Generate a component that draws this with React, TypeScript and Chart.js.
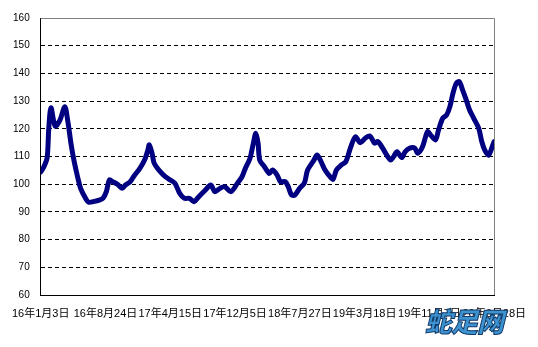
import React, { useEffect, useRef } from "react";
import { Chart, registerables } from "chart.js";

Chart.register(...registerables);

// Day offsets from 2016-01-03 and index values
const days: number[] = [
  0, 10, 23, 29, 37, 52, 69, 87, 98, 110, 121, 133, 144, 162, 173, 190, 214, 225, 237, 248,
  260, 277, 294, 306, 323, 335, 358, 375, 387, 392, 402, 410, 427, 450, 468, 485, 502, 519, 537, 554,
  571, 595, 614, 629, 647, 664, 687, 710, 727, 739, 756, 768, 777, 785, 791, 808, 825, 837, 854, 866,
  883, 894, 906, 918, 935, 952, 964, 987, 998, 1010, 1027, 1045, 1056, 1068, 1085, 1102, 1120, 1137, 1154, 1172,
  1189, 1206, 1218, 1235, 1253, 1264, 1275, 1287, 1304, 1316, 1333, 1351, 1362, 1379, 1397, 1408, 1426, 1437, 1452, 1466,
  1478, 1489, 1501, 1512, 1524, 1535, 1549, 1564, 1582, 1593, 1604, 1618, 1633, 1638,
];

const values: number[] = [
  104.4, 106, 109.5, 120, 127.6, 121, 123, 128, 122.6, 114.2, 108.1, 102.7, 98.5, 94.9, 93.5, 93.7, 94.3, 94.9, 97.3, 101.5,
  100.9, 100, 98.5, 99.7, 100.9, 102.7, 105.7, 108.7, 112.3, 114.2, 111.2, 107.5, 105.1, 102.7, 101.5, 100.3, 96.7, 94.9, 94.9, 93.7,
  95.5, 97.9, 99.7, 97.3, 98.5, 99.1, 97.3, 100.3, 102.7, 105.7, 109.4, 114.8, 118.4, 114.8, 108.7, 106.3, 103.9, 105.1, 103.3, 100.9,
  100.9, 99.1, 96.1, 96.1, 98.5, 100.3, 105.1, 108.7, 110.5, 108.7, 105.1, 102.7, 101.8, 105.1, 106.9, 108.1, 113.5, 117.1, 115, 116.6,
  117.4, 114.8, 115.4, 113, 110, 108.7, 110, 111.7, 109.6, 111.7, 113, 113, 111.2, 113.5, 119, 117.8, 116, 119.6, 123.8, 125,
  128, 132.8, 136.4, 137, 134, 131, 126.8, 123.8, 120.2, 115.4, 112.3, 110.5, 114.2, 115.4,
];

const tickDays: number[] = [0, 234, 468, 702, 936, 1170, 1404, 1638];
const tickLabels: string[] = [
  "16年1月3日",
  "16年8月24日",
  "17年4月15日",
  "17年12月5日",
  "18年7月27日",
  "19年3月18日",
  "19年11月7日",
  "20年6月28日",
];
const yMin = 60;
const yMax = 160;
const yStep = 10;

const FONT = '"Liberation Sans", Arial, "Noto Sans CJK SC", sans-serif';

const plotBorder = {
  id: "plotBorder",
  afterDraw(chart: any) {
    const { ctx, chartArea } = chart;
    ctx.save();
    ctx.strokeStyle = "#808080";
    ctx.lineWidth = 1;
    ctx.beginPath();
    ctx.moveTo(chartArea.left, chartArea.top + 0.5);
    ctx.lineTo(Math.round(chartArea.right) + 0.5, chartArea.top + 0.5);
    ctx.lineTo(Math.round(chartArea.right) + 0.5, chartArea.bottom);
    ctx.stroke();
    ctx.restore();
  },
};

export default function App() {
  const ref = useRef<HTMLCanvasElement | null>(null);

  useEffect(() => {
    document.body.style.margin = "0";
    const canvas = ref.current;
    if (!canvas) return;
    const chart = new Chart(canvas, {
      type: "line",
      data: {
        datasets: [
          {
            data: days.map((d, i) => ({ x: d, y: values[i] })),
            borderColor: "#000080",
            backgroundColor: "#000080",
            borderWidth: 5,
            pointRadius: 0,
            tension: 0.3,
            borderJoinStyle: "round",
            borderCapStyle: "round",
          },
        ],
      },
      options: {
        responsive: false,
        animation: false,
        layout: { padding: { top: 18, right: 30, left: 0, bottom: 0 } },
        plugins: { legend: { display: false }, tooltip: { enabled: false } },
        scales: {
          x: {
            type: "linear",
            min: 0,
            max: 1638,
            afterBuildTicks: (scale: any) => {
              scale.ticks = tickDays.map((v) => ({ value: v }));
            },
            afterFit: (scale: any) => {
              scale.height = 52;
            },
            ticks: {
              autoSkip: false,
              maxRotation: 0,
              minRotation: 0,
              padding: 12,
              color: "#000",
              font: { family: FONT, size: 11 },
              callback: (v: any) => {
                const i = tickDays.indexOf(Number(v));
                return i >= 0 ? tickLabels[i] : "";
              },
            },
            grid: { display: false, drawTicks: false },
            border: { display: true, color: "#000", width: 1 },
          },
          y: {
            min: yMin,
            max: yMax,
            afterFit: (scale: any) => {
              scale.width = 35;
            },
            ticks: {
              stepSize: yStep,
              padding: 11,
              color: "#000",
              font: { family: FONT, size: 10 },
            },
            grid: {
              drawTicks: false,
              color: (ctx: any) =>
                ctx.tick && (ctx.tick.value === yMin || ctx.tick.value === yMax) ? "rgba(0,0,0,0)" : "#000",
              lineWidth: 1,
            },
            border: { display: true, color: "#000", width: 1, dash: [4, 3] },
          },
        },
      },
      plugins: [plotBorder],
    });
    return () => chart.destroy();
  }, []);

  return (
    <div style={{ position: "relative", width: 538, height: 347, background: "#fff" }}>
      <canvas ref={ref} width={538} height={347} style={{ display: "block" }} />
      <div
        style={{
          position: "absolute",
          left: 425,
          top: 304,
          fontFamily: '"Noto Sans CJK SC", sans-serif',
          fontWeight: 900,
          fontStyle: "italic",
          fontSize: 27,
          color: "#3c93cf",
          WebkitTextStroke: "1px #123a6a",
          letterSpacing: -1,
          lineHeight: "34px",
          whiteSpace: "nowrap",
        }}
      >
        蛇足网
      </div>
    </div>
  );
}
